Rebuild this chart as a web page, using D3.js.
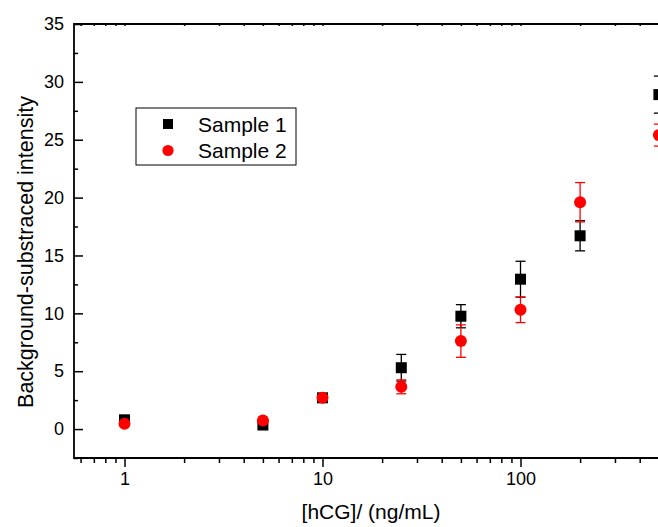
<!DOCTYPE html>
<html>
<head>
<meta charset="utf-8">
<script src="https://cdnjs.cloudflare.com/ajax/libs/d3/7.8.5/d3.min.js"></script>
<style>
  body { margin: 0; background: #fff; }
  svg { font-family: "Liberation Sans", Arial, sans-serif; }
</style>
</head>
<body>
<script>
// concentrations (ng/mL)
var conc = [1, 5, 10, 25, 50, 100, 200, 500];
// sample 1 (black squares)
var s1 = [0.8, 0.35, 2.7, 5.3, 9.75, 12.95, 16.7, 28.9];
var s1err = [0.2, 0.2, 0.2, 1.15, 1.0, 1.55, 1.3, 1.6];
// sample 2 (red circles)
var s2 = [0.45, 0.75, 2.7, 3.65, 7.6, 10.3, 19.6, 25.4];
var s2err = [0.15, 0.15, 0.2, 0.6, 1.4, 1.1, 1.7, 0.95];

var xMajor = [1, 10, 100];
var xMinor = [0.6, 0.7, 0.8, 0.9, 2, 3, 4, 5, 6, 7, 8, 9, 20, 30, 40, 50, 60, 70, 80, 90, 200, 300, 400];
var yMajor = [0, 5, 10, 15, 20, 25, 30, 35];
var yMinor = [-2.5, 2.5, 7.5, 12.5, 17.5, 22.5, 27.5, 32.5];

var width = 658, height = 527;
var plotLeft = 74, plotTop = 24, plotBottom = 458;
var plotRight = 700; // plot runs past the cropped edge

var x = d3.scaleLog().domain([1, 100]).range([124.5, 520.5]);
var y = d3.scaleLinear().domain([-2.5, 35]).range([plotBottom, plotTop]);

var svg = d3.select("body").append("svg")
    .attr("width", width)
    .attr("height", height);

svg.append("rect").attr("width", width).attr("height", height).attr("fill", "#fff");

// bottom axis
svg.append("g").attr("transform", "translate(0," + plotBottom + ")")
    .call(d3.axisBottom(x).tickValues(xMajor).tickFormat(d3.format("d")).tickSize(9).tickPadding(5));
svg.append("g").attr("transform", "translate(0," + plotBottom + ")")
    .call(d3.axisBottom(x).tickValues(xMinor).tickFormat("").tickSize(5));

// top axis (mirror, no labels)
svg.append("g").attr("transform", "translate(0," + plotTop + ")")
    .call(d3.axisBottom(x).tickValues(xMajor.concat(xMinor)).tickFormat("").tickSize(2));

// left axis, ticks inward
svg.append("g").attr("transform", "translate(" + plotLeft + ",0)")
    .call(d3.axisLeft(y).tickValues(yMajor).tickSize(-9).tickPadding(10));
svg.append("g").attr("transform", "translate(" + plotLeft + ",0)")
    .call(d3.axisLeft(y).tickValues(yMinor).tickFormat("").tickSize(-4));

svg.selectAll(".domain").remove();
svg.selectAll(".tick line").attr("stroke", "#000").attr("stroke-width", 1.5);
svg.selectAll(".tick text").attr("font-size", 18).attr("fill", "#000")
    .attr("font-family", "Liberation Sans, Arial, sans-serif");

// frame
svg.append("path")
    .attr("d", "M" + plotRight + "," + plotTop + "H" + plotLeft + "V" + plotBottom + "H" + plotRight)
    .attr("fill", "none").attr("stroke", "#000").attr("stroke-width", 1.8);

// error bars
function errBars(vals, errs, color) {
  var g = svg.append("g").attr("stroke", color).attr("stroke-width", 1.3);
  conc.forEach(function(c, i) {
    var cx = x(c), y0 = y(vals[i] - errs[i]), y1 = y(vals[i] + errs[i]);
    g.append("line").attr("x1", cx).attr("x2", cx).attr("y1", y0).attr("y2", y1);
    g.append("line").attr("x1", cx - 5).attr("x2", cx + 5).attr("y1", y0).attr("y2", y0);
    g.append("line").attr("x1", cx - 5).attr("x2", cx + 5).attr("y1", y1).attr("y2", y1);
  });
}

errBars(s1, s1err, "#000");
svg.append("g").selectAll("rect")
    .data(conc)
  .enter().append("rect")
    .attr("x", function(d) { return x(d) - 5.5; })
    .attr("y", function(d, i) { return y(s1[i]) - 5.5; })
    .attr("width", 11).attr("height", 11)
    .attr("fill", "#000");

errBars(s2, s2err, "#ff0000");
svg.append("g").selectAll("circle")
    .data(conc)
  .enter().append("circle")
    .attr("cx", function(d) { return x(d); })
    .attr("cy", function(d, i) { return y(s2[i]); })
    .attr("r", 6)
    .attr("fill", "#ff0000");

// legend
var lg = svg.append("g");
lg.append("rect").attr("x", 136).attr("y", 108).attr("width", 160).attr("height", 57)
    .attr("fill", "#fff").attr("stroke", "#000").attr("stroke-width", 1);
lg.append("rect").attr("x", 163).attr("y", 119).attr("width", 10).attr("height", 10).attr("fill", "#000");
lg.append("circle").attr("cx", 168).attr("cy", 150.5).attr("r", 5.6).attr("fill", "#ff0000");
lg.append("text").attr("x", 198).attr("y", 132).attr("font-size", 21).text("Sample 1");
lg.append("text").attr("x", 198).attr("y", 157.5).attr("font-size", 21).text("Sample 2");

// axis titles
svg.append("text")
    .attr("x", 371).attr("y", 519)
    .attr("text-anchor", "middle").attr("font-size", 21)
    .text("[hCG]/ (ng/mL)");
svg.append("text")
    .attr("transform", "translate(33,252) rotate(-90)")
    .attr("text-anchor", "middle").attr("font-size", 21.5)
    .text("Background-substraced intensity");
</script>
</body>
</html>
